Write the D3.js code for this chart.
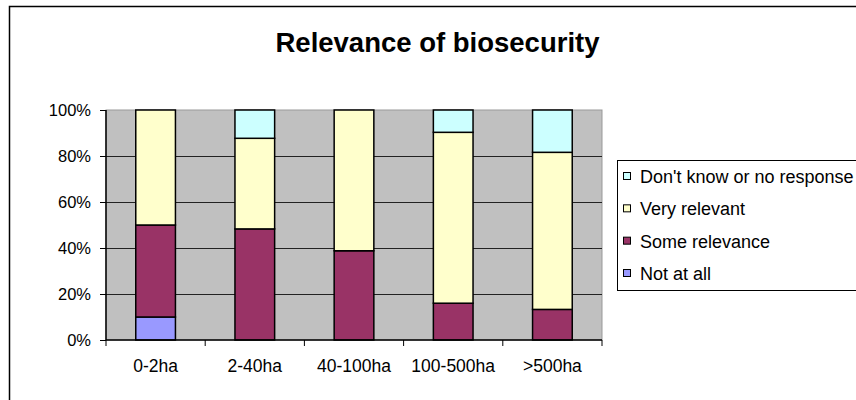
<!DOCTYPE html>
<html><head><meta charset="utf-8">
<script src="https://cdn.jsdelivr.net/npm/d3@7"></script>
<style>body{margin:0;background:#fff}svg{display:block}</style>
</head><body>
<svg id="c" width="856" height="400"></svg>
<script>
const categories = ["0-2ha","2-40ha","40-100ha","100-500ha",">500ha"];
const notAtAll      = [10, 0, 0, 0, 0];
const someRelevance = [40, 48.3, 38.8, 16, 13.3];
const veryRelevant  = [50, 39.4, 61.2, 74.3, 68.3];
const dontKnow      = [0, 12.3, 0, 9.7, 18.4];
const seriesNames = ["Not at all","Some relevance","Very relevant","Don't know or no response"];
const seriesColors = ["#9999FF","#993366","#FFFFCC","#CCFFFF"];
const yTicks = [0,20,40,60,80,100];

const FONT = "Arial, 'Liberation Sans', sans-serif";
const svg = d3.select("#c");
const W = 856, H = 400;
const L = 106, R = 602, T = 110, B = 340;

// outer chart border (top and left visible)
svg.append("path").attr("d", `M9.5,${H+2} L9.5,6.5 L${W+2},6.5`)
  .attr("fill","none").attr("stroke","#000").attr("stroke-width",1.5);

// title
svg.append("text").attr("x",437.5).attr("y",52).attr("text-anchor","middle")
  .attr("font-family",FONT).attr("font-weight","bold")
  .attr("font-size",27.5).text("Relevance of biosecurity");

const x = d3.scaleBand().domain(categories).range([L,R]).paddingInner(0.6).paddingOuter(0.3);
const y = d3.scaleLinear().domain([0,100]).range([B,T]);

// plot background
svg.append("rect").attr("x",L).attr("y",T).attr("width",R-L).attr("height",B-T)
  .attr("fill","#C0C0C0").attr("stroke","#999").attr("stroke-width",1);

// gridlines
svg.append("g").selectAll("line").data(yTicks.filter(d=>d>0&&d<100)).join("line")
  .attr("x1",L).attr("x2",R).attr("y1",d=>Math.round(y(d))+0.5).attr("y2",d=>Math.round(y(d))+0.5)
  .attr("stroke","#222").attr("stroke-width",1);

// stacked data
const table = categories.map((c,i)=>({cat:c, s0:notAtAll[i], s1:someRelevance[i], s2:veryRelevant[i], s3:dontKnow[i]}));
const stack = d3.stack().keys(["s0","s1","s2","s3"]);
const layers = stack(table);

svg.append("g").selectAll("g").data(layers).join("g")
  .attr("fill",(d,i)=>seriesColors[i])
  .selectAll("rect").data(d=>d.filter(p=>p[1]-p[0]>0)).join("rect")
  .attr("x",d=>x(d.data.cat)).attr("width",x.bandwidth())
  .attr("y",d=>y(d[1])).attr("height",d=>y(d[0])-y(d[1]))
  .attr("stroke","#000").attr("stroke-width",1.5);

// y axis
const yAxis = d3.axisLeft(y).tickValues(yTicks).tickFormat(d=>d+"%").tickSize(6).tickPadding(9);
const yg = svg.append("g").attr("transform",`translate(${L},0)`).call(yAxis);
yg.select(".domain").attr("stroke","#000").attr("stroke-width",1.5).attr("d",`M0,${T}V${B}`);
yg.selectAll(".tick line").attr("stroke","#000");
yg.selectAll("text").attr("font-family",FONT).attr("font-size",16.5).attr("fill","#000");

// x axis
const xAxis = d3.axisBottom(x).tickSize(0).tickPadding(20);
const xg = svg.append("g").attr("transform",`translate(0,${B})`).call(xAxis);
xg.select(".domain").attr("stroke","#000").attr("stroke-width",1.5).attr("d",`M${L},0H${R}`);
xg.selectAll("text").attr("font-family",FONT).attr("font-size",17.5).attr("fill","#000");
// category boundary ticks
const bounds = categories.map(c=>x(c) - (x.step()-x.bandwidth())/2).concat([R]);
svg.append("g").selectAll("line").data(bounds).join("line")
  .attr("x1",d=>d).attr("x2",d=>d).attr("y1",B).attr("y2",B+6)
  .attr("stroke","#000").attr("stroke-width",1);

// legend
const lg = svg.append("g");
lg.append("rect").attr("x",617.5).attr("y",160.5).attr("width",260).attr("height",130)
  .attr("fill","#fff").attr("stroke","#000").attr("stroke-width",1);
const legendOrder = [3,2,1,0];
const baselines = d3.scaleLinear().domain([0,3]).range([183,280]);
legendOrder.forEach((si,k)=>{
  const by = baselines(k);
  lg.append("rect").attr("x",623.5).attr("y",by-10.5).attr("width",7).attr("height",7)
    .attr("fill",seriesColors[si]).attr("stroke","#000").attr("stroke-width",1);
  lg.append("text").attr("x",640).attr("y",by)
    .attr("font-family",FONT).attr("font-size",18)
    .text(seriesNames[si]);
});
</script>
</body></html>
